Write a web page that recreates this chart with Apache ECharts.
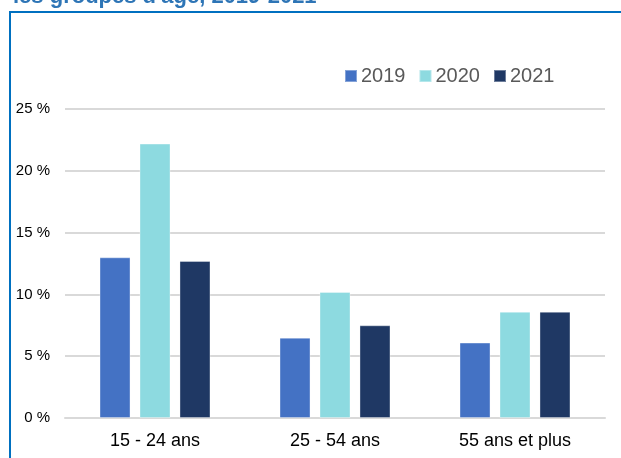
<!DOCTYPE html>
<html><head><meta charset="utf-8">
<script src="https://cdn.jsdelivr.net/npm/echarts@6/dist/echarts.min.js"></script>
<style>html,body{margin:0;padding:0;background:#fff}#c{width:621px;height:458px}</style>
</head><body><div id="c"></div>
<script>
const categories = ['15 - 24 ans', '25 - 54 ans', '55 ans et plus'];
const seriesNames = ['2019', '2020', '2021'];
const v2019 = [13.0, 6.5, 6.1];
const v2020 = [22.2, 10.2, 8.6];
const v2021 = [12.7, 7.5, 8.6];
const colors = ['#4472C4', '#8DDAE0', '#1F3864'];
const values = [v2019, v2020, v2021];

const chart = echarts.init(document.getElementById('c'), null, {renderer: 'canvas'});
chart.setOption({
  animation: false,
  title: {
    text: "les groupes d'âge, 2019-2021",
    left: 8, top: -19,
    textStyle: {color: '#2E75B6', fontSize: 22, fontWeight: 'bold', fontFamily: 'Liberation Sans'}
  },
  graphic: [
    {type: 'polyline', shape: {points: [[10, 458], [10, 12], [621, 12]]},
     style: {stroke: '#0070C0', lineWidth: 2, fill: null}, z: 10}
  ],
  legend: {
    data: seriesNames,
    top: 61, left: 339,
    itemWidth: 12, itemHeight: 12, itemGap: 13,
    icon: 'rect',
    textStyle: {color: '#595959', fontSize: 20, fontFamily: 'Liberation Sans', padding: [0, 0, 0, -1]}
  },
  grid: {left: 65, right: 16, top: 109, bottom: 40, containLabel: false},
  xAxis: {
    type: 'category', data: categories,
    axisLine: {lineStyle: {color: '#D9D9D9', width: 2}},
    axisTick: {show: false},
    axisLabel: {color: '#000', fontSize: 18, fontFamily: 'Liberation Sans', margin: 14}
  },
  yAxis: {
    type: 'value', min: 0, max: 25, interval: 5,
    axisLine: {show: false}, axisTick: {show: false},
    splitLine: {lineStyle: {color: '#D9D9D9', width: 2}},
    axisLabel: {color: '#000', fontSize: 15, fontFamily: 'Liberation Sans', margin: 15,
      formatter: v => v + ' %'}
  },
  series: seriesNames.map((n, i) => ({
    name: n, type: 'bar', data: values[i],
    barWidth: 31, barGap: '29%',
    itemStyle: {color: colors[i], borderColor: 'rgba(255,255,255,0.35)', borderWidth: 1}
  }))
});
</script></body></html>
